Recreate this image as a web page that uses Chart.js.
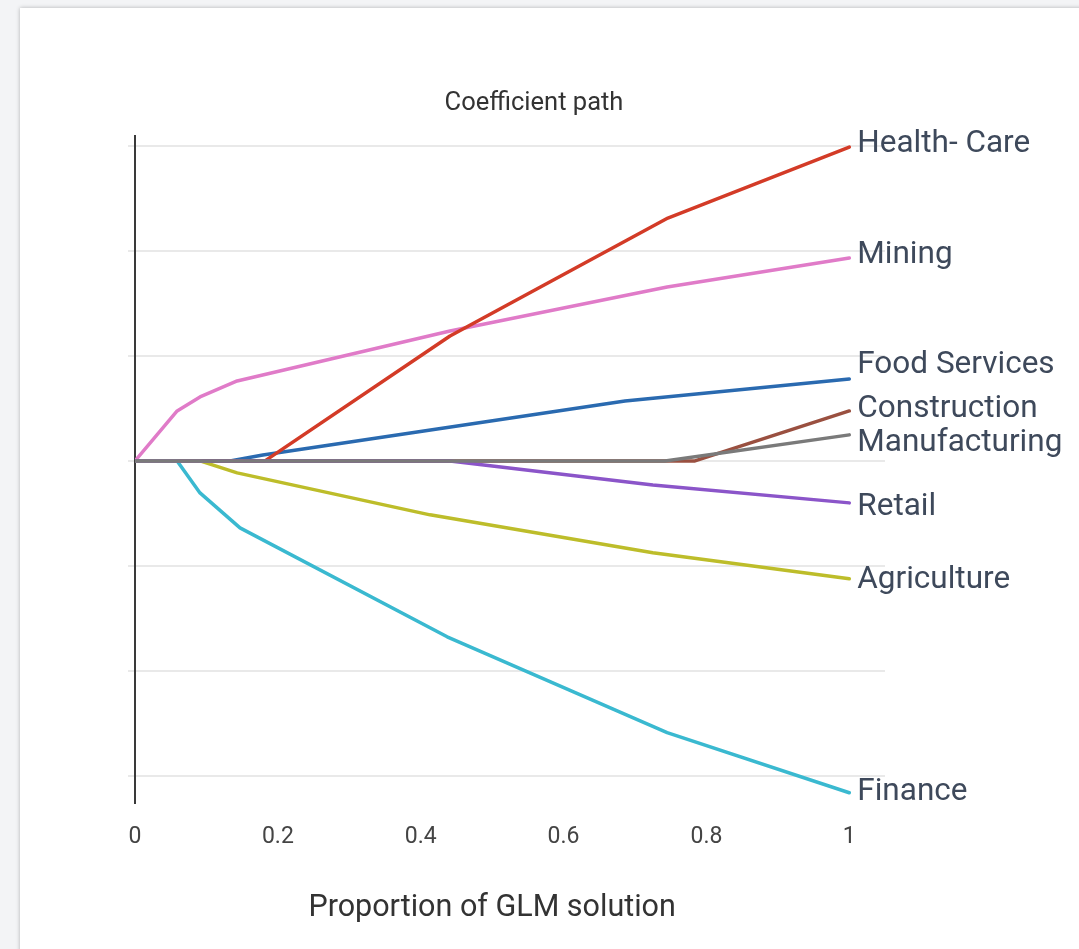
<!DOCTYPE html>
<html>
<head>
<meta charset="utf-8">
<title>Coefficient path</title>
<script src="https://cdn.jsdelivr.net/npm/chart.js@4.4.1/dist/chart.umd.min.js"></script>
<style>
  html, body { margin: 0; padding: 0; background: #f3f4f6; overflow: hidden; }
  body { width: 1079px; height: 949px; position: relative; }
  .card {
    position: absolute; left: 20px; top: 8px; width: 1100px; height: 1000px;
    background: #ffffff; box-shadow: 0 0 4px rgba(0,0,0,0.28);
  }
  .wrap { position: absolute; left: 0; top: 0; width: 1068px; height: 949px; }
</style>
</head>
<body>
<div class="card"></div>
<div class="wrap"><canvas id="chart" width="1068" height="949"></canvas></div>
<script>
// Coefficient paths: [proportion of GLM solution, coefficient]
const healthCare    = [[0, 0], [0.182, 0], [0.441, 1.19], [0.746, 2.314], [1, 2.99]];
const mining        = [[0, 0], [0.059, 0.476], [0.091, 0.61], [0.143, 0.762], [0.441, 1.238], [0.745, 1.657], [1, 1.933]];
const foodServices  = [[0, 0], [0.133, 0], [0.179, 0.057], [0.686, 0.571], [1, 0.781]];
const construction  = [[0, 0], [0.784, 0], [1, 0.476]];
const manufacturing = [[0, 0], [0.742, 0], [1, 0.248]];
const retail        = [[0, 0], [0.441, 0], [0.725, -0.229], [1, -0.4]];
const agriculture   = [[0, 0], [0.091, 0], [0.143, -0.114], [0.413, -0.514], [0.725, -0.876], [1, -1.124]];
const finance       = [[0, 0], [0.059, 0], [0.091, -0.305], [0.147, -0.638], [0.437, -1.676], [0.745, -2.59], [1, -3.162]];

const seriesNames  = ['Health- Care', 'Mining', 'Food Services', 'Construction', 'Manufacturing', 'Retail', 'Agriculture', 'Finance'];
const seriesData   = [healthCare, mining, foodServices, construction, manufacturing, retail, agriculture, finance];
const seriesColors = ['#d33b27', '#e07bc8', '#2a6ab0', '#9a5040', '#7a7a7a', '#8b55c9', '#bdbd2a', '#3ab9d0'];
// drawing order: lower is painted on top
const seriesOrder  = [4, 5, 6, 7, 1, 3, 3, 3];
// vertical nudges (px) applied to the end labels so they do not collide
const labelNudge   = [5, 5, -6, 6, 16, 12, 9, 7];

const xTickValues = [0, 0.2, 0.4, 0.6, 0.8, 1];
const yGridValues = [-3, -2, -1, 0, 1, 2, 3];

const FONT = 'Roboto, "Noto Sans", sans-serif';

// End-of-line series names and the horizontal axis caption
const pathLabels = {
  id: 'pathLabels',
  afterDatasetsDraw(chart) {
    const ctx = chart.ctx;
    const xs = chart.scales.x, ys = chart.scales.y;
    ctx.save();
    ctx.font = '31.5px ' + FONT;
    ctx.fillStyle = '#3e495b';
    ctx.textAlign = 'left';
    ctx.textBaseline = 'alphabetic';
    seriesData.forEach((pts, i) => {
      const last = pts[pts.length - 1];
      const px = xs.getPixelForValue(last[0]);
      const py = ys.getPixelForValue(last[1]);
      ctx.fillText(seriesNames[i], px + 8, py + labelNudge[i]);
    });
    ctx.font = '30.5px ' + FONT;
    ctx.fillStyle = '#333333';
    ctx.textAlign = 'center';
    ctx.textBaseline = 'middle';
    ctx.fillText('Proportion of GLM solution', xs.getPixelForValue(0.5), 908);
    ctx.restore();
  }
};

new Chart(document.getElementById('chart'), {
  type: 'line',
  data: {
    datasets: seriesData.map((pts, i) => ({
      label: seriesNames[i],
      data: pts.map(p => ({ x: p[0], y: p[1] })),
      borderColor: seriesColors[i],
      backgroundColor: seriesColors[i],
      borderWidth: 3.5,
      borderCapStyle: 'round',
      borderJoinStyle: 'round',
      pointRadius: 0,
      tension: 0,
      fill: false,
      order: seriesOrder[i]
    }))
  },
  options: {
    responsive: false,
    animation: false,
    events: [],
    layout: { padding: 0 },
    plugins: {
      legend: { display: false },
      tooltip: { enabled: false },
      title: {
        display: true,
        text: 'Coefficient path',
        color: '#333333',
        font: { family: FONT, size: 25.5, weight: 'normal' },
        padding: { top: 88, bottom: 17 }
      }
    },
    scales: {
      x: {
        type: 'linear',
        min: 0,
        max: 1.05,
        grid: { display: false },
        border: { display: false },
        afterBuildTicks: s => { s.ticks = xTickValues.map(v => ({ value: v })); },
        afterFit: s => { s.height = 146; },
        ticks: {
          color: '#444444',
          padding: 12,
          maxRotation: 0,
          font: { family: FONT, size: 23 },
          callback: v => String(v)
        }
      },
      y: {
        type: 'linear',
        min: -3.26,
        max: 3.1,
        afterBuildTicks: s => { s.ticks = yGridValues.map(v => ({ value: v })); },
        afterFit: s => { s.width = 135; },
        grid: { color: '#e9e9e9', lineWidth: 2, drawTicks: true, tickLength: 7 },
        border: { display: true, color: '#3a3a3a', width: 2 },
        ticks: { display: false }
      },
      labelSpace: {
        type: 'linear',
        position: 'right',
        display: true,
        afterFit: s => { s.width = 183; },
        grid: { display: false },
        border: { display: false },
        ticks: { display: false }
      }
    }
  },
  plugins: [pathLabels]
});
</script>
</body>
</html>
